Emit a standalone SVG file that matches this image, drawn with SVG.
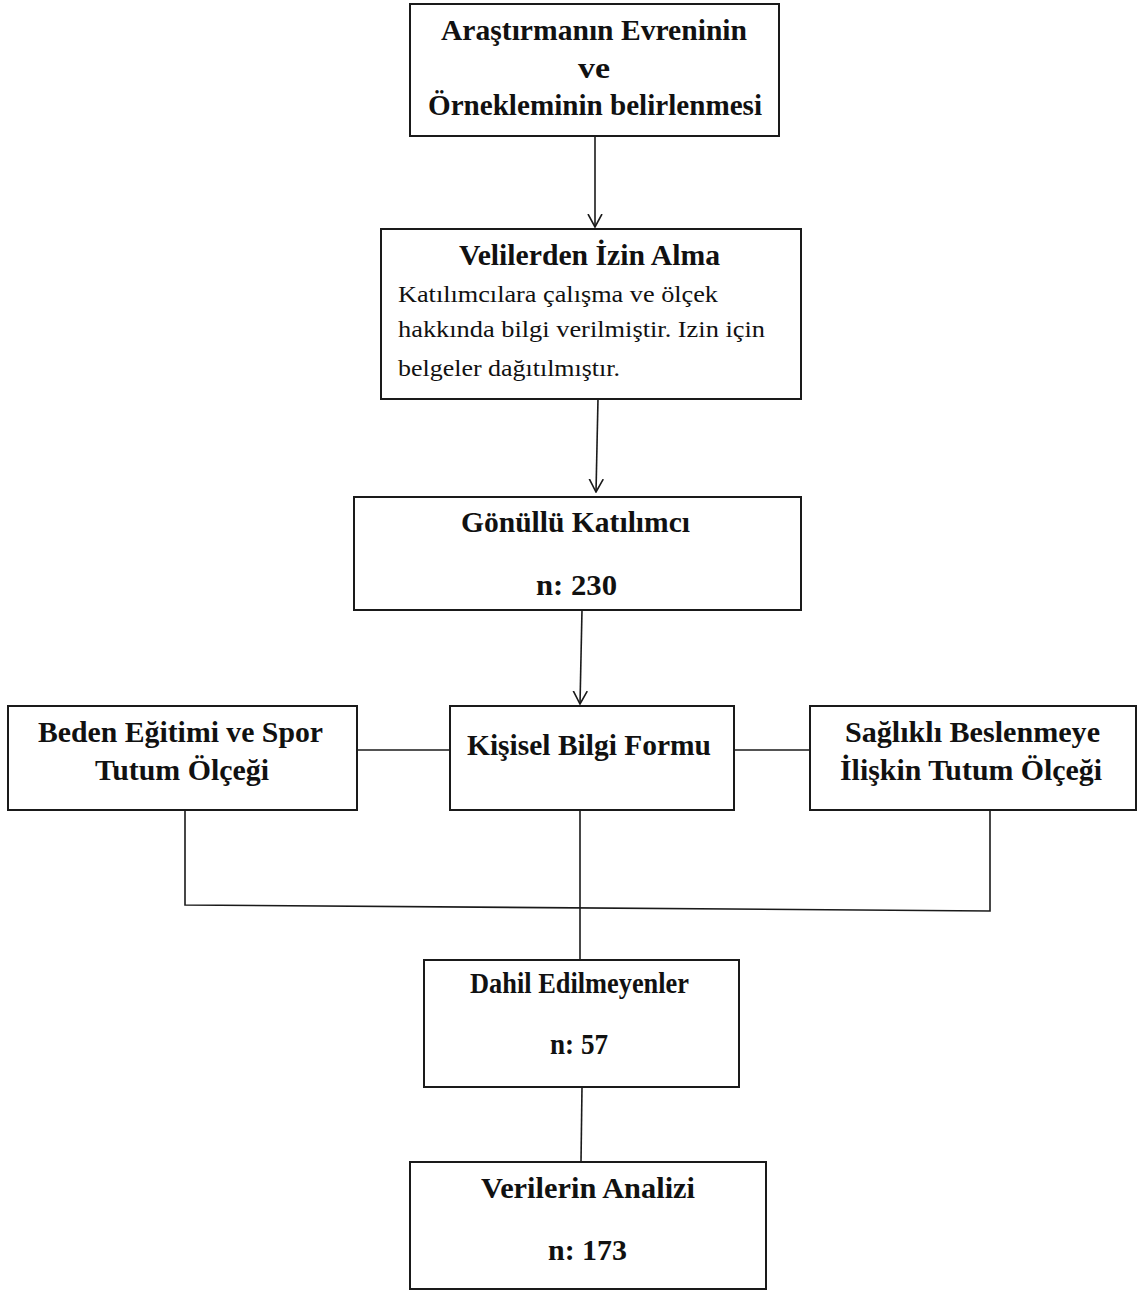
<svg xmlns="http://www.w3.org/2000/svg" width="1141" height="1290" viewBox="0 0 1141 1290">
<style>
.box{fill:#fff;stroke:#1a1a1a;stroke-width:2}
.b{font-family:"Liberation Serif","Times New Roman",serif;font-weight:bold;font-size:29px;fill:#111}
.r{font-family:"Liberation Serif","Times New Roman",serif;font-size:23px;fill:#111}
.ln{fill:none;stroke:#1a1a1a;stroke-width:1.6}
</style>
<defs>
<marker id="arr" viewBox="0 0 14 16" refX="13" refY="8" markerWidth="14" markerHeight="16" markerUnits="userSpaceOnUse" orient="auto">
<path d="M0,1 L13,8 L0,15" fill="none" stroke="#1a1a1a" stroke-width="1.6"/>
</marker>
</defs>
<rect width="1141" height="1290" fill="#fff"/>
<g id="connectors">
<line class="ln" x1="595" y1="136" x2="595" y2="227" marker-end="url(#arr)"/>
<line class="ln" x1="598" y1="399" x2="596" y2="492" marker-end="url(#arr)"/>
<line class="ln" x1="582" y1="610" x2="580" y2="704" marker-end="url(#arr)"/>
<line class="ln" x1="357" y1="750" x2="450" y2="750"/>
<line class="ln" x1="734" y1="750" x2="810" y2="750"/>
<polyline class="ln" points="185,810 185,905 990,911 990,810"/>
<line class="ln" x1="580" y1="810" x2="580" y2="960"/>
<line class="ln" x1="582" y1="1087" x2="581" y2="1162"/>
</g>
<g id="n1">
<rect class="box" x="410" y="4" width="369" height="132"/>
<text class="b" x="441" y="40" textLength="306" lengthAdjust="spacingAndGlyphs">Araştırmanın Evreninin</text>
<text class="b" x="578" y="78" textLength="32" lengthAdjust="spacingAndGlyphs">ve</text>
<text class="b" x="428" y="115" textLength="334" lengthAdjust="spacingAndGlyphs">Örnekleminin belirlenmesi</text>
</g>
<g id="n2">
<rect class="box" x="381" y="229" width="420" height="170"/>
<text class="b" x="459" y="265" textLength="261" lengthAdjust="spacingAndGlyphs">Velilerden İzin Alma</text>
<text class="r" x="398" y="302" textLength="320" lengthAdjust="spacingAndGlyphs">Katılımcılara  çalışma ve ölçek</text>
<text class="r" x="398" y="337" textLength="367" lengthAdjust="spacingAndGlyphs">hakkında bilgi verilmiştir. Izin için</text>
<text class="r" x="398" y="376" textLength="222" lengthAdjust="spacingAndGlyphs">belgeler dağıtılmıştır.</text>
</g>
<g id="n3">
<rect class="box" x="354" y="497" width="447" height="113"/>
<text class="b" x="461" y="532" textLength="229" lengthAdjust="spacingAndGlyphs">Gönüllü Katılımcı</text>
<text class="b" x="536" y="595" textLength="81" lengthAdjust="spacingAndGlyphs">n: 230</text>
</g>
<g id="n4">
<rect class="box" x="8" y="706" width="349" height="104"/>
<text class="b" x="38" y="742" textLength="285" lengthAdjust="spacingAndGlyphs">Beden Eğitimi ve Spor</text>
<text class="b" x="95" y="780" textLength="174" lengthAdjust="spacingAndGlyphs">Tutum Ölçeği</text>
</g>
<g id="n5">
<rect class="box" x="450" y="706" width="284" height="104"/>
<text class="b" x="467" y="755" textLength="244" lengthAdjust="spacingAndGlyphs">Kişisel Bilgi Formu</text>
</g>
<g id="n6">
<rect class="box" x="810" y="706" width="326" height="104"/>
<text class="b" x="845" y="742" textLength="255" lengthAdjust="spacingAndGlyphs">Sağlıklı Beslenmeye</text>
<text class="b" x="840" y="780" textLength="262" lengthAdjust="spacingAndGlyphs">İlişkin Tutum Ölçeği</text>
</g>
<g id="n7">
<rect class="box" x="424" y="960" width="315" height="127"/>
<text class="b" x="470" y="993" textLength="219" lengthAdjust="spacingAndGlyphs">Dahil Edilmeyenler</text>
<text class="b" x="550" y="1054" textLength="58" lengthAdjust="spacingAndGlyphs">n: 57</text>
</g>
<g id="n8">
<rect class="box" x="410" y="1162" width="356" height="127"/>
<text class="b" x="481" y="1198" textLength="214" lengthAdjust="spacingAndGlyphs">Verilerin Analizi</text>
<text class="b" x="548" y="1260" textLength="79" lengthAdjust="spacingAndGlyphs">n: 173</text>
</g>
</svg>
